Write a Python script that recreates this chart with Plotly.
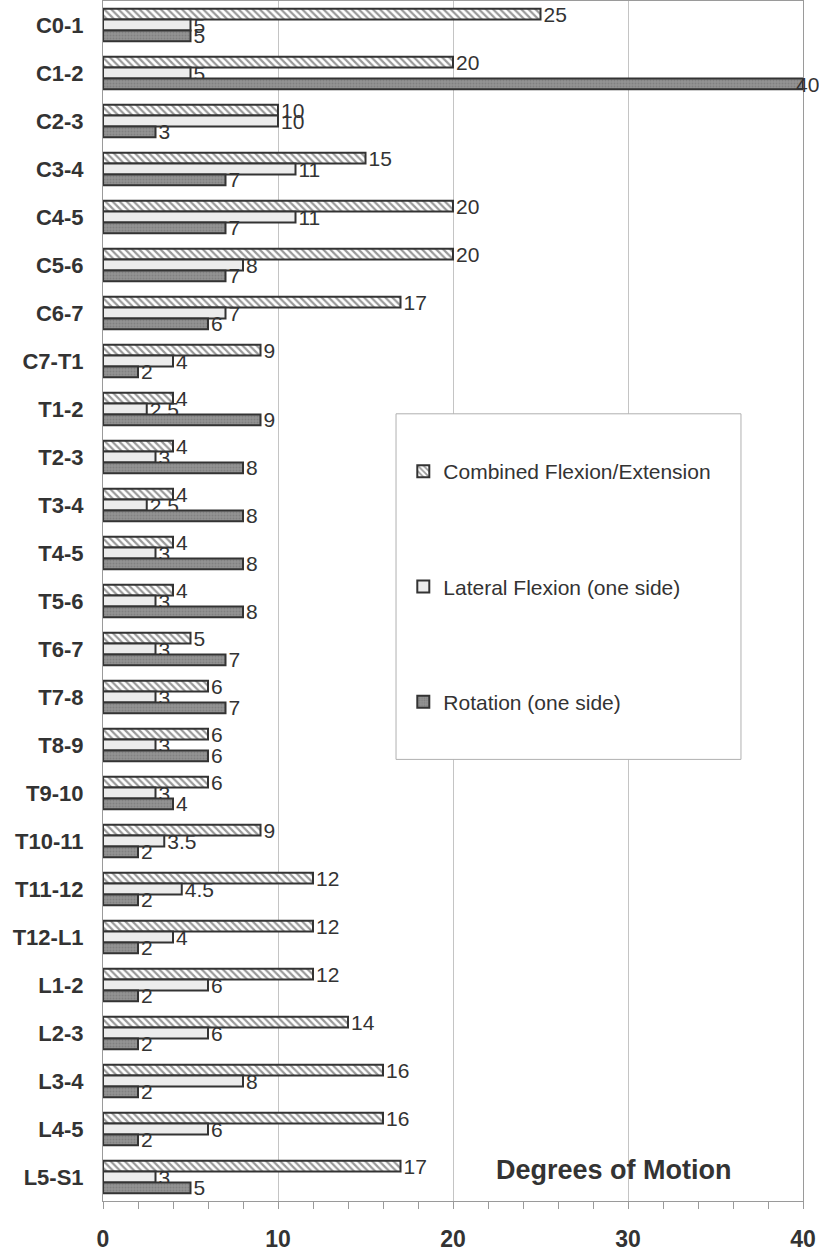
import plotly.graph_objects as go

segments = ["C0-1", "C1-2", "C2-3", "C3-4", "C4-5", "C5-6", "C6-7", "C7-T1",
            "T1-2", "T2-3", "T3-4", "T4-5", "T5-6", "T6-7", "T7-8", "T8-9",
            "T9-10", "T10-11", "T11-12", "T12-L1", "L1-2", "L2-3", "L3-4",
            "L4-5", "L5-S1"]
combined_flex_ext = [25, 20, 10, 15, 20, 20, 17, 9, 4, 4, 4, 4, 4, 5, 6, 6,
                     6, 9, 12, 12, 12, 14, 16, 16, 17]
lateral_flexion = [5, 5, 10, 11, 11, 8, 7, 4, 2.5, 3, 2.5, 3, 3, 3, 3, 3,
                   3, 3.5, 4.5, 4, 6, 6, 8, 6, 3]
rotation = [5, 40, 3, 7, 7, 7, 6, 2, 9, 8, 8, 8, 8, 7, 7, 6,
            4, 2, 2, 2, 2, 2, 2, 2, 5]
x_ticks = [0, 10, 20, 30, 40]
X_MAX = 40

INK = "#333333"
FONT = "Liberation Sans, Arial, sans-serif"
LABEL_SIZE = 21


def positions(vals):
    return ["none" if v >= X_MAX else "outside" for v in vals]


def common(vals):
    return dict(orientation="h", textposition=positions(vals),
                constraintext="none", cliponaxis=False, texttemplate="%{x}",
                textfont=dict(family=FONT, size=LABEL_SIZE, color=INK),
                outsidetextfont=dict(family=FONT, size=LABEL_SIZE, color=INK))


fig = go.Figure()
fig.add_trace(go.Bar(
    name="Combined Flexion/Extension", y=segments, x=combined_flex_ext,
    marker=dict(color="white", line=dict(color=INK, width=2),
                pattern=dict(shape="\\", fgcolor=INK, bgcolor="white",
                             size=5, solidity=0.45)),
    legendgroup="a", **common(combined_flex_ext)))
fig.add_trace(go.Bar(
    name="Lateral Flexion (one side)", y=segments, x=lateral_flexion,
    marker=dict(color="#ececec", line=dict(color=INK, width=2)),
    legendgroup="b", **common(lateral_flexion)))
fig.add_trace(go.Bar(
    name="Rotation (one side)", y=segments, x=rotation,
    marker=dict(color="#8e8e8e", line=dict(color=INK, width=2),
                pattern=dict(shape=".", fgcolor="#6e6e6e", bgcolor="#939393",
                             size=3, solidity=0.35)),
    legendgroup="c", **common(rotation)))

# labels of bars that reach the axis end sit over the bar end
annotations = [dict(text="<b>Degrees of Motion</b>", xref="x", yref="y",
                    x=29.2, y="L5-S1", yshift=7, showarrow=False,
                    font=dict(family=FONT, size=27, color=INK))]
for seg, v in zip(segments, rotation):
    if v >= X_MAX:
        annotations.append(dict(text=f"{v}", xref="x", yref="y", x=v, y=seg,
                                yshift=-11, xanchor="left", xshift=-9,
                                showarrow=False,
                                font=dict(family=FONT, size=LABEL_SIZE, color=INK)))

fig.update_layout(
    width=819, height=1253,
    margin=dict(l=103, r=16, t=1, b=52),
    paper_bgcolor="white", plot_bgcolor="white",
    barmode="group", bargap=0.32, bargroupgap=0,
    font=dict(family=FONT, color=INK),
    showlegend=True,
    legend=dict(x=0.429, y=0.625, xanchor="left", yanchor="top",
                bgcolor="rgba(0,0,0,0)", borderwidth=0,
                font=dict(family=FONT, size=21, color=INK),
                traceorder="grouped", tracegroupgap=85, itemwidth=30),
    xaxis=dict(range=[0, X_MAX], tickvals=x_ticks, showgrid=True,
               gridcolor="#c4c4c4", gridwidth=1, zeroline=False,
               showline=True, linecolor="#9a9a9a", linewidth=1, mirror=True,
               ticks="outside", ticklen=7, tickcolor="#9a9a9a",
               minor=dict(dtick=2, ticks="outside", ticklen=7, tickcolor="#9a9a9a"),
               tickfont=dict(family=FONT, size=23, color=INK, weight="bold"),
               ticklabelstandoff=10, automargin=False, fixedrange=True),
    yaxis=dict(autorange="reversed", showgrid=False, zeroline=False,
               showline=True, linecolor="#9a9a9a", linewidth=1, mirror=True,
               ticks="", ticklabelstandoff=14, automargin=False,
               tickfont=dict(family=FONT, size=22, color=INK, weight="bold")),
    shapes=[dict(type="rect", xref="paper", yref="paper",
                 x0=0.4186, x1=0.9114, y0=0.368, y1=0.656,
                 line=dict(color="#b0b0b0", width=1), fillcolor="white",
                 layer="above")],
    annotations=annotations,
)

fig.write_html("out.html", config={"displayModeBar": False},
               post_script="document.body.style.margin='0px';")
